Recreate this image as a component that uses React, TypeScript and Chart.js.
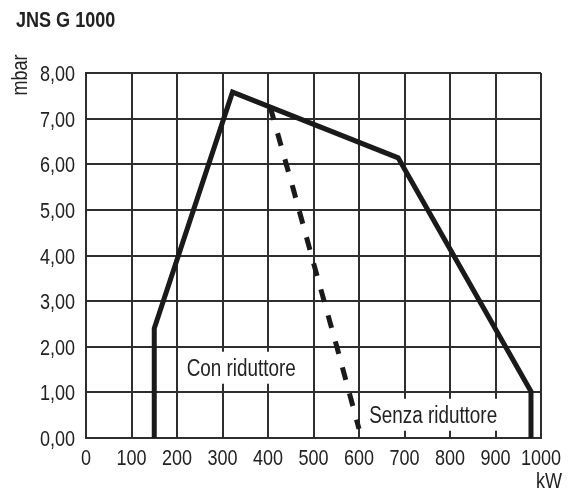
import React, { useEffect, useRef } from "react";
import { Chart, registerables } from "chart.js";

Chart.register(...registerables);

const TITLE = "JNS G 1000";
const Y_LABEL = "mbar";
const X_LABEL = "kW";

// Solid curve (Con riduttore envelope)
const solidX = [150, 150, 322, 686, 978, 978];
const solidY = [0, 2.4, 7.58, 6.14, 1.02, 0];

// Dashed curve (Senza riduttore)
const dashedX = [405, 456, 503, 551, 600];
const dashedY = [7.25, 5.44, 3.73, 2.01, 0.2];

const X_MIN = 0;
const X_MAX = 1000;
const X_STEP = 100;
const Y_MIN = 0;
const Y_MAX = 8;
const Y_STEP = 1;

const noteTexts = ["Con riduttore", "Senza riduttore"];
const noteX = [341, 763];
const noteY = [1.54, 0.51];

const FONT = '"Liberation Sans", Arial, sans-serif';
const NARROW = 0.82;
const INK = "#222222";
const GRID = "#2e2e2e";
const LINE = "#1a1a1a";

const toPts = (xs: number[], ys: number[]) => xs.map((x, i) => ({ x, y: ys[i] }));

function narrowText(
  ctx: CanvasRenderingContext2D,
  text: string,
  x: number,
  y: number,
  align: CanvasTextAlign,
  font: string,
  baseline: CanvasTextBaseline = "alphabetic"
) {
  ctx.save();
  ctx.font = font;
  ctx.textAlign = align;
  ctx.textBaseline = baseline;
  ctx.translate(x, y);
  ctx.scale(NARROW, 1);
  ctx.fillText(text, 0, 0);
  ctx.restore();
}

const textPlugin = {
  id: "textPlugin",
  beforeDatasetsDraw(chart: any) {
    const ctx = chart.ctx as CanvasRenderingContext2D;
    const xs = chart.scales.x;
    const ys = chart.scales.y;
    ctx.save();
    const font = `23px ${FONT}`;
    ctx.font = font;
    noteTexts.forEach((t, i) => {
      const cx = xs.getPixelForValue(noteX[i]);
      const cy = ys.getPixelForValue(noteY[i]);
      const w = ctx.measureText(t).width * NARROW + 10;
      const h = 32;
      ctx.fillStyle = "#ffffff";
      ctx.fillRect(cx - w / 2, cy - h / 2, w, h);
      ctx.fillStyle = INK;
      narrowText(ctx, t, cx, cy + 8, "center", font);
    });
    ctx.restore();
  },
  afterDraw(chart: any) {
    const ctx = chart.ctx as CanvasRenderingContext2D;
    const xs = chart.scales.x;
    const ys = chart.scales.y;
    const font = `22px ${FONT}`;
    ctx.save();
    ctx.fillStyle = INK;

    // tick labels
    xs.ticks.forEach((t: any) => {
      const px = xs.getPixelForValue(t.value);
      narrowText(ctx, String(t.value), px, 465, "center", font);
    });
    ys.ticks.forEach((t: any) => {
      const py = ys.getPixelForValue(t.value);
      narrowText(ctx, Number(t.value).toFixed(2).replace(".", ","), 75, py + 8, "right", font);
    });

    // title and axis names
    narrowText(ctx, TITLE, 16, 27, "left", `bold 22px ${FONT}`);

    ctx.save();
    ctx.translate(27, 75);
    ctx.rotate(-Math.PI / 2);
    narrowText(ctx, Y_LABEL, 0, 0, "center", font);
    ctx.restore();

    narrowText(ctx, X_LABEL, 562, 488, "right", font);
    ctx.restore();
  },
};

export default function App() {
  const ref = useRef<HTMLCanvasElement | null>(null);

  useEffect(() => {
    if (!ref.current) return;
    const chart = new Chart(ref.current, {
      type: "line",
      data: {
        datasets: [
          {
            label: "Con riduttore",
            data: toPts(solidX, solidY),
            borderColor: LINE,
            borderWidth: 5,
            borderJoinStyle: "miter",
            pointRadius: 0,
            fill: false,
            tension: 0,
          },
          {
            label: "Senza riduttore",
            data: toPts(dashedX, dashedY),
            borderColor: LINE,
            borderWidth: 5,
            borderDash: [13, 14],
            pointRadius: 0,
            fill: false,
            tension: 0,
          },
        ],
      },
      options: {
        responsive: false,
        animation: false,
        layout: { padding: { left: 0, top: 73, right: 35, bottom: 0 } },
        plugins: {
          legend: { display: false },
          tooltip: { enabled: false },
          title: { display: false },
        },
        scales: {
          x: {
            type: "linear",
            min: X_MIN,
            max: X_MAX,
            ticks: { stepSize: X_STEP, display: false, autoSkip: false },
            grid: { color: GRID, lineWidth: 2, drawTicks: false },
            border: { color: GRID, width: 2 },
            afterFit: (s: any) => {
              s.height = 52;
            },
          },
          y: {
            type: "linear",
            min: Y_MIN,
            max: Y_MAX,
            ticks: { stepSize: Y_STEP, display: false },
            grid: { color: GRID, lineWidth: 2, drawTicks: false },
            border: { color: GRID, width: 2 },
            afterFit: (s: any) => {
              s.width = 86;
            },
          },
        },
      },
      plugins: [textPlugin],
    } as any);
    return () => chart.destroy();
  }, []);

  return (
    <div style={{ position: "fixed", left: 0, top: 0, width: 576, height: 490, background: "#fff" }}>
      <canvas ref={ref} width={576} height={490} style={{ display: "block" }} />
    </div>
  );
}
